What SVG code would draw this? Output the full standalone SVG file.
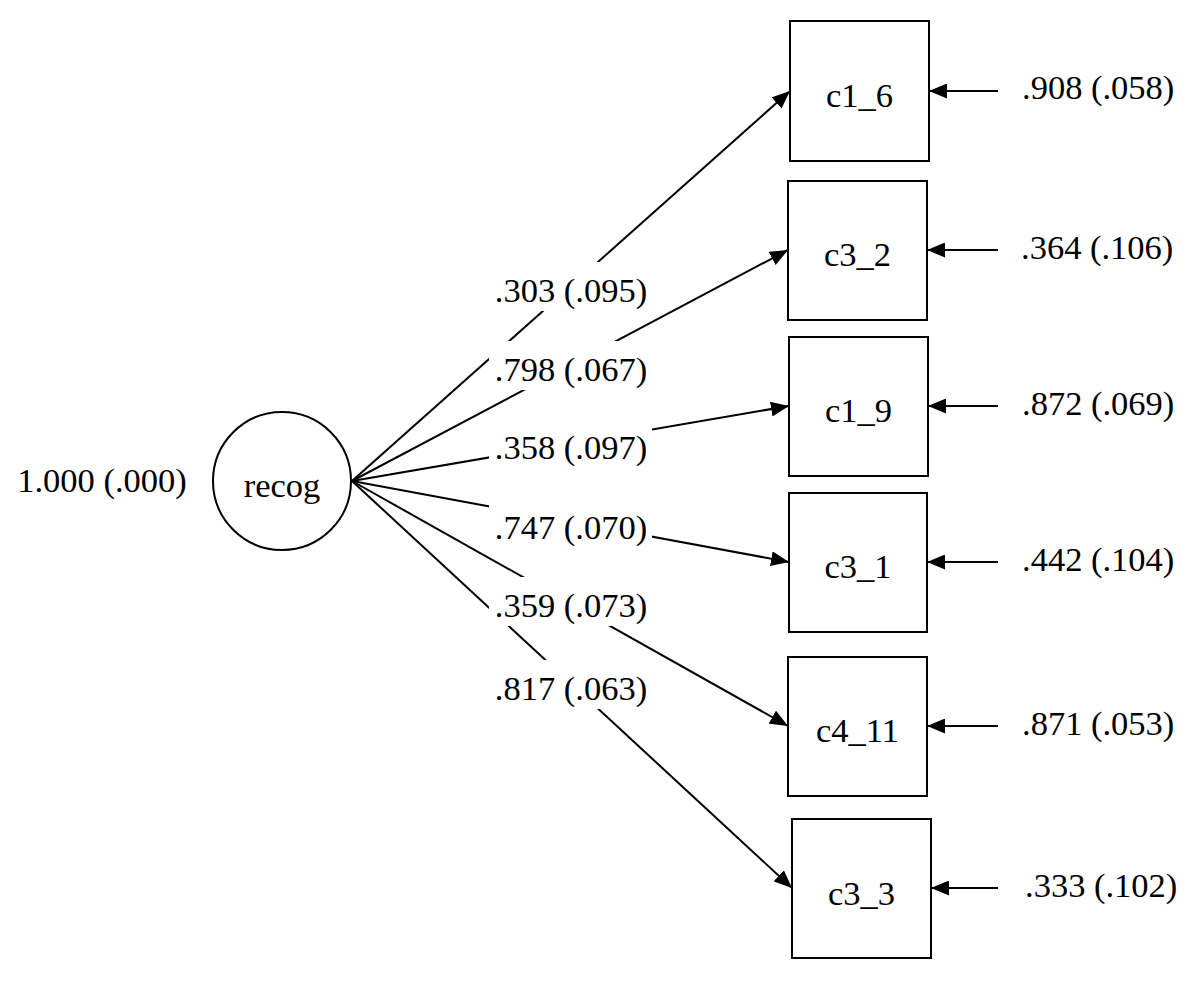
<svg xmlns="http://www.w3.org/2000/svg" width="1200" height="983" viewBox="0 0 1200 983">
<defs>
<style>
text{font-family:"Liberation Serif","Times New Roman",serif;font-size:34.5px;fill:#000}
.box{fill:#fff;stroke:#000;stroke-width:2}
.ln{stroke:#000;stroke-width:2;fill:none;marker-end:url(#ah)}
.bg{fill:#fff}
.c{text-anchor:middle}
</style>
<marker id="ah" markerUnits="userSpaceOnUse" markerWidth="18" markerHeight="15" refX="18" refY="7.5" orient="auto"><path d="M0,0 L18,7.5 L0,15 z" fill="#000"/></marker>
</defs>
<rect width="1200" height="983" fill="#fff"/>
<g id="connectors">
<line class="ln" x1="352" y1="481" x2="790" y2="91"/>
<line class="ln" x1="352" y1="481" x2="788" y2="250"/>
<line class="ln" x1="352" y1="481" x2="789" y2="406"/>
<line class="ln" x1="352" y1="481" x2="789" y2="562"/>
<line class="ln" x1="352" y1="481" x2="788" y2="726"/>
<line class="ln" x1="352" y1="481" x2="792" y2="888"/>
<line class="ln" x1="998" y1="91" x2="929" y2="91"/>
<line class="ln" x1="998" y1="250" x2="927" y2="250"/>
<line class="ln" x1="998" y1="406" x2="928" y2="406"/>
<line class="ln" x1="998" y1="562" x2="927" y2="562"/>
<line class="ln" x1="998" y1="726" x2="927" y2="726"/>
<line class="ln" x1="998" y1="888" x2="931" y2="888"/>
</g>
<g id="path-labels">
<rect class="bg" x="489" y="262" width="163" height="49"/>
<text class="c" x="571" y="302">.303 (.095)</text>
<rect class="bg" x="489" y="341" width="163" height="49"/>
<text class="c" x="571" y="381">.798 (.067)</text>
<rect class="bg" x="489" y="419" width="163" height="49"/>
<text class="c" x="571" y="459">.358 (.097)</text>
<rect class="bg" x="489" y="499" width="163" height="49"/>
<text class="c" x="571" y="539">.747 (.070)</text>
<rect class="bg" x="489" y="577" width="163" height="49"/>
<text class="c" x="571" y="617">.359 (.073)</text>
<rect class="bg" x="489" y="660" width="163" height="49"/>
<text class="c" x="571" y="700">.817 (.063)</text>
</g>
<g id="recog">
<circle cx="282" cy="481" r="69" fill="#fff" stroke="#000" stroke-width="2"/>
<text class="c" x="282" y="497">recog</text>
<text class="c" x="102" y="492">1.000 (.000)</text>
</g>
<g id="c1_6">
<rect class="box" x="790" y="21" width="139" height="140"/>
<text class="c" x="859.5" y="107">c1_6</text>
<text x="1022" y="99">.908 (.058)</text>
</g>
<g id="c3_2">
<rect class="box" x="788" y="181" width="139" height="139"/>
<text class="c" x="857.5" y="266">c3_2</text>
<text x="1021" y="259">.364 (.106)</text>
</g>
<g id="c1_9">
<rect class="box" x="789" y="337" width="139" height="139"/>
<text class="c" x="858.5" y="422">c1_9</text>
<text x="1022" y="415">.872 (.069)</text>
</g>
<g id="c3_1">
<rect class="box" x="789" y="493" width="138" height="139"/>
<text class="c" x="858" y="578">c3_1</text>
<text x="1022" y="571">.442 (.104)</text>
</g>
<g id="c4_11">
<rect class="box" x="788" y="657" width="139" height="139"/>
<text class="c" x="857.5" y="742">c4_11</text>
<text x="1022" y="735">.871 (.053)</text>
</g>
<g id="c3_3">
<rect class="box" x="792" y="819" width="139" height="139"/>
<text class="c" x="861.5" y="905">c3_3</text>
<text x="1025" y="897">.333 (.102)</text>
</g>
</svg>
